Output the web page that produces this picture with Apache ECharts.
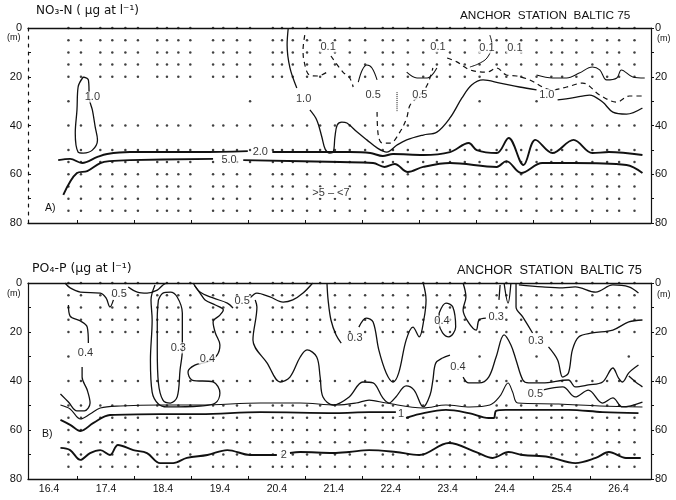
<!DOCTYPE html>
<html>
<head>
<meta charset="utf-8">
<script src="https://cdn.jsdelivr.net/npm/echarts@6/dist/echarts.min.js"></script>
<style>
  html, body { margin: 0; padding: 0; background: #fff; }
  #chart { width: 676px; height: 500px; }
</style>
</head>
<body>
<div id="chart"></div>
<script>
// time axis: day of April (label "16.4" sits at noon of the 16th)
const dayTicks = [17, 18, 19, 20, 21, 22, 23, 24, 25, 26]
const dayLabels = [16.5, 17.5, 18.5, 19.5, 20.5, 21.5, 22.5, 23.5, 24.5, 25.5, 26.5]

// sampling grid (dots)
const sampleTimes = [16.84, 17.06, 17.40, 17.61, 17.84, 18.06, 18.40, 18.57, 18.77, 18.98, 19.38, 19.56, 19.80, 20.03,
  20.43, 20.59, 20.78, 21.03, 21.26, 21.52, 21.78, 22.05, 22.36, 22.54, 22.80, 23.07, 23.31, 23.54, 23.80, 24.06,
  24.36, 24.53, 24.79, 25.06, 25.32, 25.51, 25.76, 26.04, 26.30, 26.51, 26.78]
const sampleDepths = [0, 5, 10, 15, 20, 40, 50, 55, 60, 65, 70, 75]
const sparse30Top = [16.84, 20.03, 24.06, 25.06]
const sparse30Bot = [16.84, 24.06, 25.06, 26.68]

// ---- A) NO3-N contours [day, depth] ----
const no3Loop10 = [[17.10, 20.1], [17.19, 21.3], [17.21, 29.5], [17.26, 33.6], [17.31, 40.6], [17.35, 45.9], [17.26, 50.1],
  [17.10, 51.3], [17.01, 50.9], [16.96, 43.1], [16.99, 33.6], [17.01, 24.2], [17.10, 20.1]]
const no3Line20 = [[16.66, 54.2], [16.87, 53.7], [17.08, 55.4], [17.35, 52.9], [17.52, 51.7], [17.92, 50.9], [19.15, 50.9],
  [19.99, 50.5], null, [20.42, 50.9], [21.43, 50.9], [21.78, 50.9], [22.14, 51.3], [22.36, 52.5], [22.54, 51.7],
  [23.07, 52.1], [23.54, 50.9], [23.87, 47.2], [24.01, 50.1], [24.36, 51.3], [24.57, 45.1], [24.83, 56.2], [25.04, 45.9],
  [25.34, 51.3], [25.71, 45.9], [26.04, 51.3], [26.33, 50.9], [26.92, 52.1]]
const no3Line50 = [[16.75, 68.5], [16.99, 59.5], [17.17, 58.7], [17.40, 55.4], [17.57, 54.6], [17.92, 54.2], [19.38, 53.7],
  null, [19.91, 54.2], [21.61, 55.0], [22.19, 55.4], [22.39, 57.0], [22.57, 55.8], [22.80, 59.1], [23.07, 57.0],
  [23.54, 55.4], [24.36, 57.0], [24.53, 54.6], [24.79, 59.5], [25.16, 55.4], [25.69, 55.4], [26.64, 56.2], [26.92, 59.5]]
const no3Line10 = [[20.70, 0], [20.68, 7.0], [20.73, 16.4], [20.85, 24.6], null, [21.08, 33.6], [21.20, 37.7], [21.29, 44.7],
  [21.35, 49.8], [21.43, 51.3], [21.49, 50.9], [21.52, 44.7], [21.56, 39.8], [21.64, 38.6], [21.73, 39.0], [21.91, 42.7],
  [22.08, 45.9], [22.26, 49.2], [22.43, 50.9], [22.61, 48.0], [22.78, 45.9], [23.07, 43.9], [23.31, 42.7], [23.54, 36.9],
  [23.75, 28.7], [23.92, 23.4], [24.12, 21.3], [24.42, 22.6], [24.76, 24.2], [25.06, 25.4], null, [25.43, 29.5],
  [25.69, 28.7], [25.99, 27.5], [26.22, 30.4], [26.40, 34.5], [26.64, 35.3], [26.92, 32.8]]
const no3Upper05 = [[25.06, 19.3], [25.34, 20.5], [25.59, 20.5], [25.81, 18.5], [26.04, 16.0], [26.17, 17.2], [26.29, 21.3],
  [26.47, 20.5], [26.55, 17.2], [26.75, 20.1], [26.96, 20.5]]
const no3Arch05 = [[21.93, 22.2], [22.00, 17.2], [22.08, 15.2], [22.17, 16.4], [22.26, 21.3]]
const no3Wave05 = [[22.78, 18.1], [22.96, 20.5], [23.14, 20.5], [23.31, 16.4]]
const no3Arc01 = [[24.24, 2.9], [24.28, 7.0], [24.19, 12.3], [24.03, 14.8], [23.89, 16.0]]
const no3Dash01a = [[20.99, 2.9], [20.96, 9.0], [20.98, 13.9], [21.07, 19.3], [21.22, 19.7], [21.38, 18.1]]
const no3Dash01b = [[21.45, 11.5], [21.66, 18.1], [21.78, 20.5], [21.84, 24.2]]
const no3Dash05 = [[22.26, 34.5], [22.28, 43.9], [22.35, 47.2], [22.49, 47.2], [22.66, 42.7], [22.78, 36.9], [22.84, 31.6],
  [23.01, 27.5], [23.14, 23.4], [23.24, 16.4]]
const no3DashRight = [[23.49, 12.3], [23.66, 13.9], [23.89, 17.2], [24.19, 18.1], [24.36, 16.4], [24.53, 19.3], [24.71, 19.7],
  [24.94, 21.3], [25.20, 24.6], [25.34, 25.4], [25.59, 24.2], [25.87, 22.6], [26.17, 27.5], [26.47, 30.4], [26.69, 27.9],
  [26.92, 27.9]]
const no3Dotted = [[22.61, 26.3], [22.61, 34.5]]
const no3Labels = [[17.26, 28.3, '1.0'], [20.97, 29.2, '1.0'], [25.24, 27.3, '1.0'], [20.21, 50.9, '2.0'],
  [19.66, 54.2, '5.0'], [21.40, 7.8, '0.1'], [23.33, 7.8, '0.1'], [24.19, 8.2, '0.1'], [24.68, 8.2, '0.1'],
  [22.19, 27.5, '0.5'], [23.01, 27.5, '0.5'], [21.45, 67.5, '>5 – <7']]

// ---- B) PO4-P contours [day, depth] ----
const po4Top05a = [[16.78, 0], [16.87, 2.0], [17.05, 3.7], [17.40, 4.1], [17.50, 6.1], [17.57, 9.8], [17.63, 6.9], null,
  [17.89, 1.6], [18.05, 3.7], [18.22, 4.1], [18.40, 2.9], [18.50, 0.8], [18.57, 0]]
const po4Top05b = [[19.03, 0], [19.15, 3.7], [19.38, 6.1], [19.63, 8.2], [19.73, 10.2], null, [20.03, 6.1], [20.15, 4.1],
  [20.38, 5.7], [20.61, 7.8], [20.78, 6.9], [20.96, 4.1], [21.13, 0]]
const po4Left04 = [[16.84, 9.0], [16.87, 13.5], [17.05, 15.5], [17.17, 18.0], [17.19, 24.5], null, [17.08, 34.3],
  [17.08, 38.4], [17.17, 43.7], [17.22, 49.0], [17.12, 52.2], [16.99, 52.2], [16.84, 48.6], [16.70, 45.3]]
const po4Loop03 = [[18.42, 6.9], [18.50, 4.1], [18.63, 3.7], [18.75, 5.7], [18.84, 12.2], [18.84, 27.3], [18.80, 35.5],
  [18.75, 46.5], [18.63, 49.0], [18.50, 47.8], [18.42, 40.8], [18.40, 27.3], [18.40, 13.9], [18.42, 6.9]]
const po4Outer04 = [[18.36, 0.8], [18.29, 6.9], [18.31, 15.1], [18.28, 31.4], [18.31, 44.5], [18.42, 49.4], [18.57, 50.6],
  [19.15, 50.2], [19.42, 49.0], [19.50, 44.9], [19.38, 40.4], [19.01, 39.6], [18.94, 36.3], [19.06, 33.5], [19.28, 32.2],
  [19.45, 29.4], [19.50, 25.3], [19.42, 20.4], [19.38, 15.9], [19.50, 13.1], [19.56, 11.0], [19.42, 9.0], [19.24, 6.9],
  [19.15, 4.1], [19.06, 1.2]]
const po4Mid04 = [[20.12, 6.9], [20.15, 9.8], [20.08, 23.3], [20.33, 32.7], [20.56, 40.4], [20.73, 38.4], [20.91, 30.2],
  [21.03, 27.3], [21.20, 30.2], [21.26, 38.4], [21.31, 46.5], [21.49, 49.8], [21.77, 46.5], [22.01, 40.4], [22.19, 40.8],
  [22.36, 46.9], [22.47, 49.0], [22.59, 46.5], [22.77, 42.0], [22.91, 43.7], [23.07, 50.6], [23.19, 45.7], [23.24, 39.6],
  [23.29, 32.7], [23.41, 30.6], [23.54, 29.4], null, [23.77, 38.4], [23.87, 40.8], [24.05, 40.8], [24.22, 38.4],
  [24.35, 30.2], [24.49, 21.2], [24.61, 25.3], [24.70, 31.4], [24.82, 39.6], [24.92, 40.8], [25.16, 40.8], [25.62, 39.6],
  [25.74, 42.4], [25.97, 41.6], [26.22, 40.4], [26.40, 34.7], [26.50, 38.8], [26.57, 40.4], [26.68, 36.7], [26.85, 33.5]]
const po4Hook04 = [[26.68, 38.0], [26.80, 40.4], [26.92, 42.4]]
const po4Mid03 = [[21.38, 0], [21.40, 6.9], [21.45, 15.1], [21.54, 21.2], [21.63, 24.5], null, [21.94, 18.0], [22.07, 14.3],
  [22.19, 15.9], [22.29, 27.3], [22.42, 36.7], [22.54, 40.4], [22.64, 36.7], [22.77, 23.3], [22.89, 18.0], [23.00, 22.0],
  [23.08, 15.1], [23.12, 6.9], [23.07, 0]]
const po4Loop04 = [[23.35, 12.2], [23.47, 8.2], [23.59, 9.8], [23.64, 18.0], [23.52, 22.0], [23.41, 20.4], [23.35, 16.3],
  [23.35, 12.2]]
const po4Notch03 = [[23.77, 0], [23.82, 5.7], [23.77, 11.0], [23.87, 16.3], [24.00, 19.2], [24.05, 15.1], [24.17, 14.3],
  null, [24.40, 6.9], [24.42, 0.8]]
const po4Vee = [[24.49, 0], [24.56, 8.2], [24.61, 0]]
const po4Right03 = [[24.70, 0], [24.70, 9.8], [24.82, 13.9], [24.99, 20.4], null, [25.27, 26.1], [25.43, 31.4],
  [25.52, 38.4], [25.62, 36.7], [25.69, 27.3], [25.80, 22.0], [26.04, 20.4], [26.40, 19.2], [26.68, 15.9], [26.92, 15.1]]
const po4Surface = [[24.75, 0.8], [25.16, 1.6], [25.52, 2.0], [25.74, 1.6], [26.10, 3.7], [26.40, 0.8], [26.68, 1.6],
  [26.85, 4.1]]
const po4Mid05 = [[16.70, 49.8], [16.87, 51.4], [17.05, 55.5], [17.22, 53.5], [17.40, 51.0], [17.75, 50.2], [18.45, 49.8],
  [19.15, 49.8], [20.21, 49.0], [20.91, 49.0], [21.54, 49.8], [21.89, 49.0], [22.12, 47.8], [22.42, 49.0], [23.07, 51.0],
  [23.47, 49.8], [23.89, 50.6], [24.24, 49.8], [24.42, 46.1], [24.56, 40.8], [24.64, 44.5], [24.73, 49.0], [25.45, 49.4],
  [26.17, 50.2], [26.92, 50.6]]
const po4Right05 = [[25.16, 43.7], [25.52, 42.4], [25.74, 46.5], [25.97, 43.7], [26.22, 49.0], [26.40, 46.9],
  [26.57, 50.6], [26.92, 48.6]]
const po4Line1 = [[16.70, 55.9], [16.87, 57.9], [17.05, 60.4], [17.28, 57.1], [17.57, 53.9], [18.45, 53.5], [19.15, 53.5],
  [20.21, 52.7], [21.54, 53.1], [22.12, 52.7], [22.59, 52.7], null, [22.77, 55.1], [23.00, 53.5], [23.47, 51.8],
  [23.87, 53.1], [24.22, 55.1], [24.31, 55.1], [24.35, 52.2], [24.52, 51.8], [25.62, 51.8], [26.22, 52.7], [26.85, 53.1]]
const po4Line2 = [[16.70, 67.3], [16.87, 68.2], [17.05, 72.2], [17.22, 69.4], [17.40, 68.2], [17.57, 70.2], [17.71, 66.1],
  [17.98, 68.2], [18.22, 69.4], [18.45, 73.5], [18.68, 73.5], [18.92, 71.4], [19.28, 70.2], [19.63, 68.2], [20.03, 70.2],
  [20.50, 70.2], null, [20.73, 69.4], [20.91, 69.0], [21.49, 69.4], [21.77, 69.0], [22.12, 68.2], [22.59, 69.0],
  [23.00, 70.2], [23.52, 65.3], [24.00, 69.0], [24.29, 71.4], [24.57, 69.0], [24.82, 70.2], [25.27, 71.0], [25.74, 73.5],
  [26.10, 71.4], [26.33, 69.0], [26.63, 71.4], [26.89, 71.4]]
const po4Labels = [[17.73, 4.5, '0.5'], [19.89, 7.3, '0.5'], [17.14, 28.6, '0.4'], [18.77, 26.5, '0.3'],
  [19.28, 31.0, '0.4'], [21.87, 22.4, '0.3'], [23.40, 15.5, '0.4'], [24.35, 13.9, '0.3'], [23.68, 34.3, '0.4'],
  [25.05, 23.7, '0.3'], [25.04, 45.3, '0.5'], [22.68, 53.5, '1'], [20.62, 70.2, '2']]

const ink = '#111'
const textFont = 'Liberation Sans'

const chart = echarts.init(document.getElementById('chart'))

const dotsFor = (sparse) => {
  const pts = []
  sampleTimes.forEach((t) => {
    sampleDepths.forEach((d) => pts.push([t, d]))
  })
  sparse.forEach((t) => pts.push([t, 30]))
  return pts
}

const lineSeries = (data, panel, style) => {
  return {
    type: 'line',
    xAxisIndex: panel * 2,
    yAxisIndex: panel * 2,
    data: data.map((p) => (p ? p : ['-', '-'])),
    smooth: 0.35,
    showSymbol: false,
    symbol: 'none',
    connectNulls: false,
    silent: true,
    animation: false,
    lineStyle: Object.assign({ color: ink, width: 1.3 }, style || {})
  }
}

const labelSeries = (data, panel) => {
  return {
    type: 'scatter',
    xAxisIndex: panel * 2,
    yAxisIndex: panel * 2,
    data: data,
    symbolSize: 1,
    itemStyle: { color: 'rgba(0,0,0,0)' },
    silent: true,
    z: 10,
    label: {
      show: true,
      position: 'inside',
      formatter: (p) => p.value[2],
      color: '#000',
      fontSize: 11,
      fontFamily: textFont,
      backgroundColor: '#fff',
      padding: [0, 1]
    }
  }
}

const dotSeries = (panel, sparse) => {
  return {
    type: 'scatter',
    xAxisIndex: panel * 2,
    yAxisIndex: panel * 2,
    data: dotsFor(sparse),
    symbolSize: 2.5,
    itemStyle: { color: '#111' },
    silent: true,
    animation: false
  }
}

const dashed = { type: [5, 4], width: 1.2 }
const thick = { width: 1.9 }

const xBottom = (gridIndex, withLabels) => {
  return {
    type: 'value',
    gridIndex: gridIndex,
    position: 'bottom',
    min: 16.13,
    max: 27.07,
    splitLine: { show: false },
    axisLine: { show: true, onZero: false, lineStyle: { color: ink, width: 1.3 } },
    axisTick: { show: true, inside: true, length: 3, customValues: dayTicks, lineStyle: { color: ink } },
    axisLabel: {
      show: withLabels,
      customValues: dayLabels,
      formatter: (v) => Math.floor(v) + '.4',
      color: ink,
      fontSize: 10.5,
      fontFamily: textFont,
      margin: 5
    }
  }
}
const xTop = (gridIndex) => {
  return {
    type: 'value',
    gridIndex: gridIndex,
    position: 'top',
    min: 16.13,
    max: 27.07,
    splitLine: { show: false },
    axisLine: { show: true, onZero: false, lineStyle: { color: ink, width: 1.3 } },
    axisTick: { show: false },
    axisLabel: { show: false }
  }
}
const yAxisFor = (gridIndex, side, lineType) => {
  return {
    type: 'value',
    gridIndex: gridIndex,
    position: side,
    inverse: true,
    min: 0,
    max: 80,
    interval: 10,
    splitLine: { show: false },
    axisLine: { show: true, onZero: false, lineStyle: { color: ink, width: 1.2, type: lineType } },
    axisTick: { show: true, inside: side === 'left', length: 3, lineStyle: { color: ink } },
    axisLabel: {
      formatter: (v) => (v % 20 === 0 ? String(v) : ''),
      color: ink,
      fontSize: 11,
      fontFamily: textFont,
      margin: side === 'left' ? 6 : 4
    }
  }
}

const option = {
  backgroundColor: '#fff',
  animation: false,
  grid: [
    { left: 28, right: 25, top: 28, height: 195 },
    { left: 28, right: 25, top: 283, height: 196 }
  ],
  xAxis: [xBottom(0, false), xTop(0), xBottom(1, true), xTop(1)],
  yAxis: [
    yAxisFor(0, 'left', [3, 5]),
    yAxisFor(0, 'right', 'solid'),
    yAxisFor(1, 'left', 'solid'),
    yAxisFor(1, 'right', 'solid')
  ],
  graphic: [
    { type: 'text', left: 36, top: 5, style: { text: 'NO₃-N ( µg at l⁻¹)', fontSize: 12, fontFamily: 'DejaVu Sans', fill: ink } },
    { type: 'text', left: 460, top: 10, style: { text: 'ANCHOR  STATION  BALTIC 75', fontSize: 11.8, fontFamily: textFont, fill: ink } },
    { type: 'text', left: 32, top: 262, style: { text: 'PO₄-P (µg at l⁻¹)', fontSize: 12.5, fontFamily: 'DejaVu Sans', fill: ink } },
    { type: 'text', left: 457, top: 264, style: { text: 'ANCHOR  STATION  BALTIC 75', fontSize: 12.8, fontFamily: textFont, fill: ink } },
    { type: 'text', left: 7, top: 33, style: { text: '(m)', fontSize: 9, fontFamily: textFont, fill: ink } },
    { type: 'text', left: 657, top: 34, style: { text: '(m)', fontSize: 9, fontFamily: textFont, fill: ink } },
    { type: 'text', left: 7, top: 289, style: { text: '(m)', fontSize: 9, fontFamily: textFont, fill: ink } },
    { type: 'text', left: 657, top: 290, style: { text: '(m)', fontSize: 9, fontFamily: textFont, fill: ink } },
    { type: 'text', left: 45, top: 203, style: { text: 'A)', fontSize: 10.5, fontFamily: textFont, fill: ink } },
    { type: 'text', left: 42, top: 429, style: { text: 'B)', fontSize: 10.5, fontFamily: textFont, fill: ink } }
  ],
  series: [
    dotSeries(0, sparse30Top),
    dotSeries(1, sparse30Bot),
    // A) NO3-N
    lineSeries(no3Loop10, 0),
    lineSeries(no3Line20, 0, thick),
    lineSeries(no3Line50, 0, thick),
    lineSeries(no3Line10, 0),
    lineSeries(no3Upper05, 0, { width: 1.1 }),
    lineSeries(no3Arch05, 0, { width: 1.1 }),
    lineSeries(no3Wave05, 0, { width: 1.1 }),
    lineSeries(no3Arc01, 0, { width: 1 }),
    lineSeries(no3Dash01a, 0, dashed),
    lineSeries(no3Dash01b, 0, dashed),
    lineSeries(no3Dash05, 0, dashed),
    lineSeries(no3DashRight, 0, dashed),
    lineSeries(no3Dotted, 0, { type: 'dotted', width: 1 }),
    labelSeries(no3Labels, 0),
    // B) PO4-P
    lineSeries(po4Top05a, 1),
    lineSeries(po4Top05b, 1),
    lineSeries(po4Left04, 1),
    lineSeries(po4Loop03, 1),
    lineSeries(po4Outer04, 1),
    lineSeries(po4Mid04, 1),
    lineSeries(po4Hook04, 1),
    lineSeries(po4Mid03, 1),
    lineSeries(po4Loop04, 1),
    lineSeries(po4Notch03, 1),
    lineSeries(po4Vee, 1),
    lineSeries(po4Right03, 1),
    lineSeries(po4Surface, 1),
    lineSeries(po4Mid05, 1, { width: 1.1 }),
    lineSeries(po4Right05, 1),
    lineSeries(po4Line1, 1, thick),
    lineSeries(po4Line2, 1, thick),
    labelSeries(po4Labels, 1)
  ]
}

chart.setOption(option)
</script>
</body>
</html>
